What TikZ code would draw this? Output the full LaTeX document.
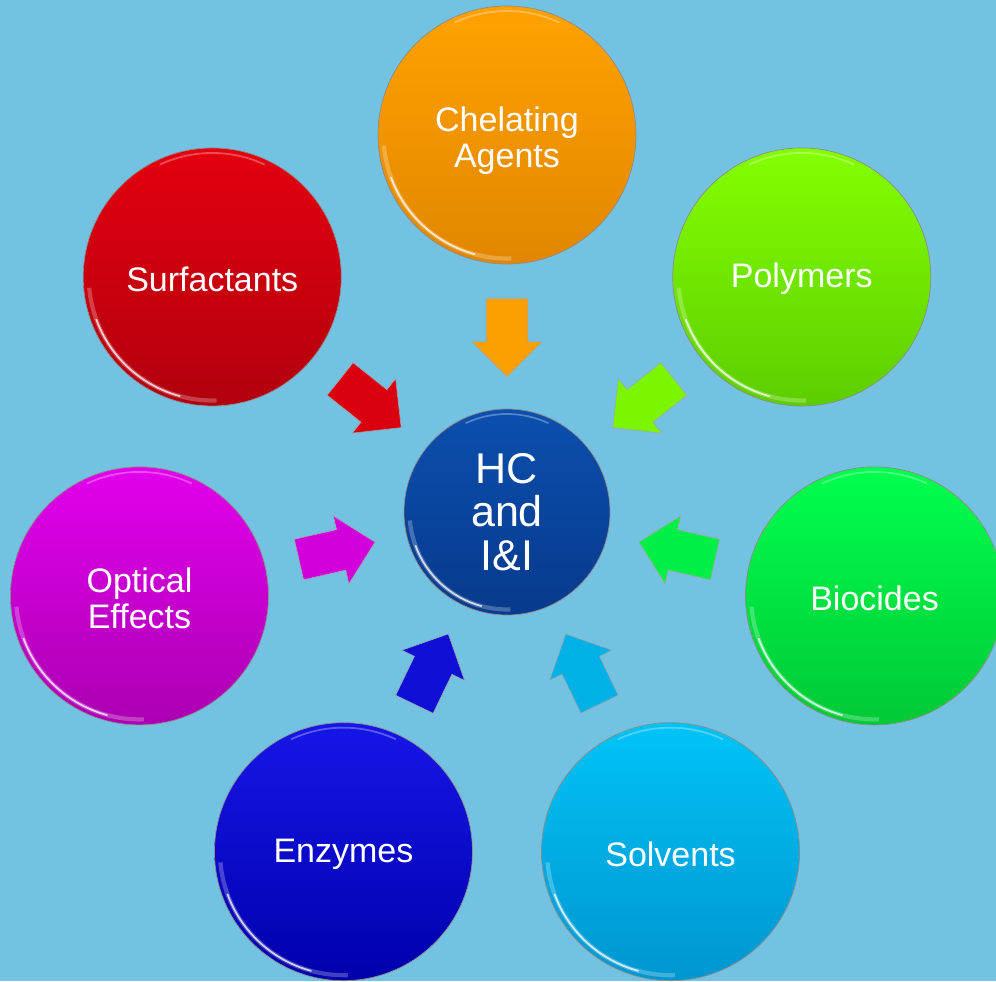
\documentclass[tikz,border=0pt]{standalone}
\usepackage{fontspec}
\setmainfont{Liberation Sans}
\usetikzlibrary{shapes.arrows,calc}

\definecolor{bgblue}{HTML}{74C2E1}
\definecolor{hubtop}{HTML}{0B4FAE}
\definecolor{hubbot}{HTML}{073A8C}
\definecolor{cheltop}{HTML}{FFA200}
\definecolor{chelbot}{HTML}{E28600}
\definecolor{polytop}{HTML}{84FF00}
\definecolor{polybot}{HTML}{5CCE00}
\definecolor{biotop}{HTML}{00FF4E}
\definecolor{biobot}{HTML}{00C936}
\definecolor{solvtop}{HTML}{00C3F7}
\definecolor{solvbot}{HTML}{0096D0}
\definecolor{enztop}{HTML}{1616E8}
\definecolor{enzbot}{HTML}{0000AC}
\definecolor{opttop}{HTML}{E200EC}
\definecolor{optbot}{HTML}{AC00B2}
\definecolor{surftop}{HTML}{E4000F}
\definecolor{surfbot}{HTML}{B2000E}

\begin{document}
\begin{tikzpicture}[
  bubble/.style={circle, minimum size=5.16cm, inner sep=0pt, align=center,
    text=white, draw=black!45, line width=0.4pt,
    font=\fontsize{19.35}{20.5}\selectfont,
    execute at begin node={\rule{0pt}{16.5pt}},
    path picture={
      \draw[white, opacity=.25, line width=2.4pt] ([shift={(185:2.47)}]path picture bounding box.center) arc[start angle=185, end angle=272, radius=2.47];
      \draw[white, opacity=.75, line width=1pt] ([shift={(200:2.47)}]path picture bounding box.center) arc[start angle=200, end angle=255, radius=2.47];
      \draw[white, opacity=.3, line width=1pt] ([shift={(65:2.48)}]path picture bounding box.center) arc[start angle=65, end angle=115, radius=2.48];
    }},
  hubnode/.style={circle, minimum size=4.12cm, inner sep=0pt, align=center,
    text=white, draw=black!45, line width=0.4pt,
    font=\fontsize{24.5}{24.8}\selectfont,
    path picture={
      \draw[white, opacity=.25, line width=2.4pt] ([shift={(185:1.95)}]path picture bounding box.center) arc[start angle=185, end angle=272, radius=1.95];
      \draw[white, opacity=.75, line width=1pt] ([shift={(200:1.95)}]path picture bounding box.center) arc[start angle=200, end angle=255, radius=1.95];
      \draw[white, opacity=.3, line width=1pt] ([shift={(65:1.96)}]path picture bounding box.center) arc[start angle=65, end angle=115, radius=1.96];
    }},
  blockarrow/.style={single arrow, minimum height=1.56cm, text height=0.82cm,
    text depth=0pt, single arrow head extend=0.28cm, inner sep=0pt, anchor=tip,
    draw=black!35, line width=0.3pt}
]

% background and frame
\fill[bgblue] (-10.14,-9.38) rectangle (9.78,10.24);
\useasboundingbox (-10.14,-9.38) rectangle (9.78,10.24);

% hub
\node[hubnode, top color=hubtop, bottom color=hubbot] (hub) at (0,0) {HC\\and\\I\&I};

% outer circles
\node[bubble, top color=cheltop, bottom color=chelbot] (chelating) at (90:7.54) {\rule{0pt}{20pt}Chelating\\Agents};
\node[bubble, top color=polytop, bottom color=polybot] (polymers) at (38.57:7.54) {Polymers};
\node[bubble, top color=biotop, bottom color=biobot] (biocides) at (-12.86:7.54) {Biocides};
\node[bubble, top color=solvtop, bottom color=solvbot] (solvents) at (-64.29:7.54) {Solvents};
\node[bubble, top color=enztop, bottom color=enzbot] (enzymes) at (-115.71:7.54) {Enzymes};
\node[bubble, top color=opttop, bottom color=optbot] (optical) at (192.86:7.54) {\rule{0pt}{17pt}Optical\\Effects};
\node[bubble, top color=surftop, bottom color=surfbot] (surfactants) at (141.43:7.54) {Surfactants};

% arrows into the hub
\node[blockarrow, fill=cheltop!90!chelbot, rotate=-90] (achel) at ($(hub)!2.7cm!(chelating)$) {};
\node[blockarrow, fill=polytop!80!polybot, rotate=218.57] (apoly) at ($(hub)!2.7cm!(polymers)$) {};
\node[blockarrow, fill=biotop!70!biobot, rotate=167.14] (abio) at ($(hub)!2.7cm!(biocides)$) {};
\node[blockarrow, fill=solvtop!60!solvbot, rotate=115.71] (asolv) at ($(hub)!2.7cm!(solvents)$) {};
\node[blockarrow, fill=enztop!70!enzbot, rotate=64.29] (aenz) at ($(hub)!2.7cm!(enzymes)$) {};
\node[blockarrow, fill=opttop!70!optbot, rotate=12.86] (aopt) at ($(hub)!2.7cm!(optical)$) {};
\node[blockarrow, fill=surftop!80!surfbot, rotate=-38.57] (asurf) at ($(hub)!2.7cm!(surfactants)$) {};
\end{tikzpicture}
\end{document}
